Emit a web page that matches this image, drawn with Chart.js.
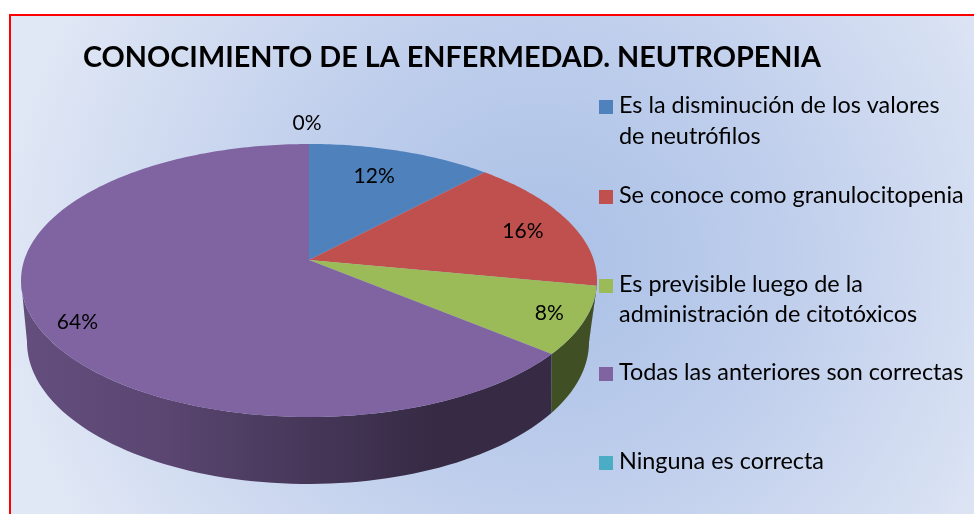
<!DOCTYPE html>
<html><head><meta charset="utf-8">
<style>html,body{margin:0;padding:0;background:#fff}canvas{display:block}</style>
<script src="https://cdn.jsdelivr.net/npm/chart.js@4"></script>
</head><body><canvas id="c" width="974" height="514"></canvas>
<script>
const categories = ["Es la disminución de los valores de neutrófilos","Se conoce como granulocitopenia","Es previsible luego de la administración de citotóxicos","Todas las anteriores son correctas","Ninguna es correcta"];
const legendLines = [["Es la disminución de los valores","de neutrófilos"],["Se conoce como granulocitopenia"],["Es previsible luego de la","administración de citotóxicos"],["Todas las anteriores son correctas"],["Ninguna es correcta"]];
const values = [12,16,8,64,0];
const colors = ["#4f81bd","#c0504d","#9bbb59","#8064a2","#4bacc6"];
const titleText = "CONOCIMIENTO DE LA ENFERMEDAD. NEUTROPENIA";

const labelRadius = [0.75,0.82,0.88,0.85,1.2];
const labelNudge = [[-6,0],[0,4],[0,0],[0,11],[-2,-1]];
const TOP = {cx:309,cy:280.5,rx:288,ry:136.5,b:-0.15};
const BOT = {cx:308,cy:342,rx:281,ry:142,b:-0.2};
function proj(E,a,r=1){const u=r*Math.cos(a),v=r*Math.sin(a),d=1+E.b*v;
  return [E.cx+E.rx*u*Math.sqrt(1-E.b*E.b)/d, E.cy+E.ry*(v+E.b)/d];}
function hex(c){return [1,3,5].map(i=>parseInt(c.substr(i,2),16));}
function shade(c,f){return 'rgb('+hex(c).map(x=>Math.round(x*f)).join(',')+')';}

const scene = {
 id:'scene',
 beforeDraw(chart){
  const ctx=chart.ctx; ctx.save();
  ctx.fillStyle='#fff'; ctx.fillRect(0,0,974,514);
  ctx.save();
  ctx.beginPath(); ctx.rect(10,15,964,499); ctx.clip();
  ctx.translate(540,260); ctx.scale(1,0.95);
  const g=ctx.createRadialGradient(0,0,0,0,0,540);
  g.addColorStop(0,'#a9c0e6'); g.addColorStop(0.45,'#bfceec'); g.addColorStop(1,'#e0e7f5');
  ctx.fillStyle=g; ctx.fillRect(-600,-400,1200,1200);
  ctx.restore();
  ctx.strokeStyle='#ff0000'; ctx.lineWidth=2;
  ctx.beginPath(); ctx.moveTo(10,516); ctx.lineTo(10,15); ctx.lineTo(976,15); ctx.stroke();
  ctx.restore();
 },
 beforeDatasetsDraw(chart){
  const ctx=chart.ctx, arcs=chart.getDatasetMeta(0).data;
  ctx.save();
  arcs.forEach(el=>{
    const clampFor=E=>{const lo=-E.b, hi=Math.PI+E.b; return [Math.max(el.startAngle,lo),Math.min(el.endAngle,hi)];};
    const [t0,t1]=clampFor(TOP), [b0,b1]=clampFor(BOT);
    if(t1<=t0 && b1<=b0)return;
    ctx.beginPath();
    for(let i=0;i<=80;i++){const p=proj(TOP,t0+(t1-t0)*i/80); i?ctx.lineTo(p[0],p[1]):ctx.moveTo(p[0],p[1]);}
    for(let i=80;i>=0;i--){const p=proj(BOT,b0+(b1-b0)*i/80); ctx.lineTo(p[0],p[1]);}
    ctx.closePath();
    const c=el.options.backgroundColor;
    const g=ctx.createLinearGradient(21,0,597,0);
    g.addColorStop(0,shade(c,.78)); g.addColorStop(.25,shade(c,.7)); g.addColorStop(.5,shade(c,.55));
    g.addColorStop(.72,shade(c,.42)); g.addColorStop(1,shade(c,.42));
    ctx.fillStyle=g; ctx.fill();
  });
  arcs.forEach(el=>{
    const a0=el.startAngle,a1=el.endAngle; if(a1-a0<=0)return;
    const n=Math.max(2,Math.ceil((a1-a0)*60));
    ctx.beginPath();
    let p=proj(TOP,0,0); ctx.moveTo(p[0],p[1]);
    for(let i=0;i<=n;i++){p=proj(TOP,a0+(a1-a0)*i/n); ctx.lineTo(p[0],p[1]);}
    ctx.closePath();
    ctx.fillStyle=el.options.backgroundColor; ctx.fill();
  });
  ctx.restore();
  return false;
 },
 afterDraw(chart){
  const ctx=chart.ctx, arcs=chart.getDatasetMeta(0).data, total=values.reduce((a,b)=>a+b,0);
  ctx.save();
  ctx.fillStyle='#000'; ctx.textAlign='center'; ctx.textBaseline='middle';
  ctx.font='21px Lato';
  arcs.forEach((el,i)=>{
    const m=(el.startAngle+el.endAngle)/2, p=proj(TOP,m,labelRadius[i]);
    ctx.fillText(Math.round(values[i]/total*100)+'%',p[0]+labelNudge[i][0],p[1]+labelNudge[i][1]);
  });
  const ys=[[113,144],[203],[292,322],[380],[469]];
  ctx.textAlign='left'; ctx.textBaseline='alphabetic'; ctx.font='23.4px Lato';
  legendLines.forEach((lines,i)=>{
    ctx.fillStyle=colors[i]; ctx.fillRect(599,ys[i][0]-13,14,14);
    ctx.fillStyle='#000';
    lines.forEach((t,j)=>ctx.fillText(t,619,ys[i][j]));
  });
  ctx.restore();
 }
};

new Chart(document.getElementById('c'),{
 type:'pie',
 data:{labels:categories,datasets:[{data:values,backgroundColor:colors,borderWidth:0}]},
 options:{
  responsive:false,animation:false,
  layout:{padding:{left:83}},
  plugins:{
   legend:{display:false},tooltip:{enabled:false},
   title:{display:true,text:titleText,align:'start',color:'#000',font:{family:'Lato',size:28.8,weight:'bold'},padding:{top:40,bottom:10}}
  }
 },
 plugins:[scene]
});
</script></body></html>
